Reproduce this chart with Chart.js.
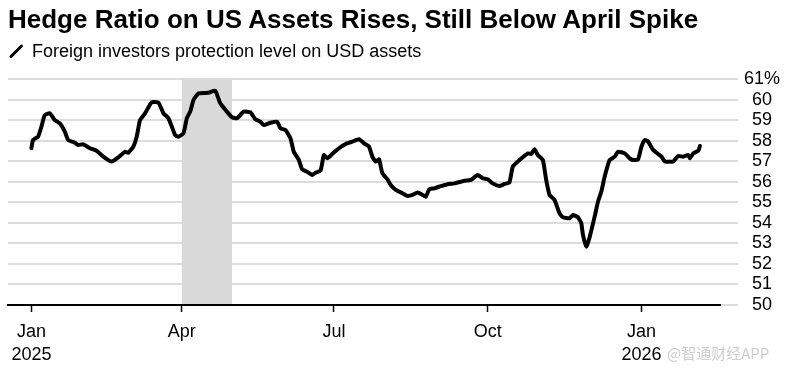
<!DOCTYPE html>
<html>
<head>
<meta charset="utf-8">
<script src="https://cdn.jsdelivr.net/npm/chart.js@4"></script>
<style>
    html, body { margin: 0; padding: 0; background: #fff; }
    #wrap { position: relative; width: 785px; height: 373px; overflow: hidden; font-family: "Liberation Sans", Arial, sans-serif; }
    #chart { position: absolute; left: 0; top: 0; }
    .title { position: absolute; left: 8px; top: 6px; font-size: 26px; line-height: 26px; font-weight: bold; color: #000; white-space: nowrap; }
    .legend { position: absolute; left: 8px; top: 42px; font-size: 18px; line-height: 18px; color: #000; white-space: nowrap; }
    .legend svg { position: absolute; left: 0; top: 0; }
    .legend span { position: absolute; left: 24px; top: 0; }
    .mark { position: absolute; left: 667px; top: 344px; font-size: 15px; line-height: 18px; color: rgba(190,190,190,0.75); font-family: "Noto Sans CJK SC", "Liberation Sans", sans-serif; }
</style>
</head>
<body>
<div id="wrap">
    <canvas id="chart" width="785" height="373"></canvas>
    <div class="title">Hedge Ratio on US Assets Rises, Still Below April Spike</div>
    <div class="legend">
        <svg width="20" height="20"><line x1="3" y1="14.5" x2="13.5" y2="4" stroke="#000" stroke-width="3" stroke-linecap="round"/></svg>
        <span>Foreign investors protection level on USD assets</span>
    </div>
    <div class="mark">@智通财经APP</div>
</div>

<script>
/* ==========================================================
   Hedge ratio chart
========================================================== */

// days since 2025-01-01
const days = [
    0, 1, 4, 6, 8, 11, 14, 17, 20, 22, 26, 28, 31, 35, 39, 43, 48, 52, 56, 58,
    61, 63, 65, 68, 72, 76, 79, 82, 86, 88, 91, 93, 95, 97, 100,
    106, 110, 113, 117, 120, 123, 127, 131, 134, 137, 139, 143, 147, 149, 152,
    155, 157, 160, 162, 165, 168, 170, 173, 175, 177, 180, 184, 188, 192, 196, 199, 202,
    204, 206, 208, 210, 213, 215, 218, 222, 225, 228, 231, 234, 236, 238, 241, 245,
    249, 253, 257, 259, 263, 267, 270, 273, 276, 280, 283, 286, 288, 291, 294, 297, 299, 301, 303,
    306, 308, 310, 313, 316, 318, 322, 324, 327, 329, 330, 332, 334, 337, 339, 341, 343,
    346, 349, 351, 355, 358, 360, 363, 365, 367, 369, 372, 375, 377, 379, 382, 384,
    387, 390, 393, 394, 396, 399, 400
];

// protection level, %
const hedgeRatio = [
    57.63, 58.03, 58.19, 58.68, 59.25, 59.33, 59.00, 58.84, 58.44, 58.03, 57.90, 57.79, 57.82, 57.63, 57.51, 57.22, 56.98, 57.19, 57.46, 57.41,
    57.71, 58.19, 59.00, 59.33, 59.87, 59.85, 59.33, 59.09, 58.27, 58.19, 58.36, 59.09, 59.41, 59.98, 60.30,
    60.33, 60.43, 59.82, 59.41, 59.14, 59.09, 59.41, 59.38, 59.04, 58.92, 58.76, 58.87, 58.92, 58.60, 58.52,
    58.11, 57.46, 57.06, 56.60, 56.49, 56.33, 56.44, 56.54, 57.30, 57.14, 57.35, 57.63, 57.84, 57.95, 58.07, 57.87, 57.71,
    57.22, 56.98, 57.09, 56.41, 56.12, 55.84, 55.60, 55.44, 55.31, 55.36, 55.47, 55.36, 55.27, 55.63, 55.68, 55.79,
    55.88, 55.92, 56.00, 56.05, 56.09, 56.33, 56.17, 56.12, 55.92, 55.79, 55.89, 55.97, 56.73, 56.98, 57.19, 57.38, 57.35, 57.58, 57.30,
    57.06, 56.09, 55.36, 55.11, 54.46, 54.27, 54.22, 54.38, 54.27, 53.98, 53.41, 52.84, 53.30, 54.30, 55.03, 55.52, 56.25,
    57.06, 57.22, 57.46, 57.38, 57.14, 57.06, 57.09, 57.71, 58.03, 57.95, 57.55, 57.35, 57.22, 56.98, 56.98, 56.98,
    57.25, 57.22, 57.30, 57.14, 57.38, 57.51, 57.74
];

// x axis ticks
const tickDays = [0, 90, 181, 273, 365];
const tickLabels = [["Jan", "2025"], "Apr", "Jul", "Oct", ["Jan", "2026"]];

// y axis ticks
const yTicks = [50, 51, 52, 53, 54, 55, 56, 57, 58, 59, 60, 61];

// shaded April spike window (Apr 1 - May 1)
const bandStart = 90;
const bandEnd = 120;

const FONT = "'Liberation Sans', Arial, sans-serif";

/* =====================================================
   PLUGINS
===================================================== */

const bandPlugin = {
    id: "band",
    beforeDatasetsDraw(chart) {
        const { ctx, chartArea, scales } = chart;
        const x0 = scales.x.getPixelForValue(bandStart);
        const x1 = scales.x.getPixelForValue(bandEnd);
        ctx.save();
        ctx.fillStyle = "#d9d9d9";
        ctx.fillRect(x0, chartArea.top - 1, x1 - x0, chartArea.bottom - chartArea.top);
        ctx.restore();
    }
};

/* =====================================================
   CHART
===================================================== */

const points = days.map((d, i) => ({ x: d, y: hedgeRatio[i] }));

new Chart(document.getElementById("chart").getContext("2d"), {
    type: "line",
    data: {
        datasets: [{
            label: "Foreign investors protection level on USD assets",
            data: points,
            borderColor: "#000",
            borderWidth: 4,
            pointRadius: 0,
            tension: 0.15,
            borderJoinStyle: "round",
            borderCapStyle: "round"
        }]
    },
    options: {
        responsive: false,
        animation: false,
        layout: { padding: { left: 8, top: 79, right: 0, bottom: 0 } },
        plugins: {
            legend: { display: false },
            tooltip: { enabled: false }
        },
        scales: {
            x: {
                type: "linear",
                min: -14,
                max: 412,
                afterBuildTicks(scale) {
                    scale.ticks = tickDays.map(v => ({ value: v }));
                },
                afterFit(scale) { scale.height = 68; },
                ticks: {
                    autoSkip: false,
                    maxRotation: 0,
                    padding: 9,
                    color: "#000",
                    font: { family: FONT, size: 18, lineHeight: 1.25 },
                    callback(value) {
                        const i = tickDays.indexOf(value);
                        return i >= 0 ? tickLabels[i] : "";
                    }
                },
                grid: {
                    drawOnChartArea: false,
                    drawTicks: true,
                    tickLength: 7,
                    tickColor: "#000",
                    tickWidth: 1.5
                },
                border: { display: true, color: "#000", width: 2 }
            },
            y: {
                position: "right",
                min: 50,
                max: 61,
                afterBuildTicks(scale) {
                    scale.ticks = yTicks.map(v => ({ value: v }));
                },
                afterFit(scale) { scale.width = 65; },
                ticks: {
                    autoSkip: false,
                    padding: 6,
                    crossAlign: "center",
                    color: "#000",
                    font: { family: FONT, size: 18 },
                    callback(value) {
                        return value === 61 ? value + "%" : value;
                    }
                },
                grid: {
                    color: "#dcdcdc",
                    lineWidth: 2,
                    drawTicks: true,
                    tickLength: 18
                },
                border: { display: false }
            }
        }
    },
    plugins: [bandPlugin]
});
</script>
</body>
</html>
